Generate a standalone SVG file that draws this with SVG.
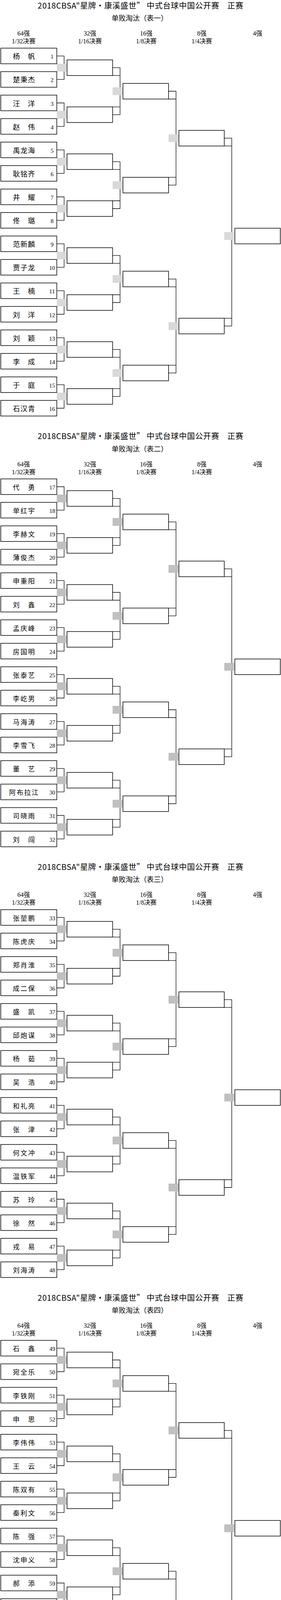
<svg xmlns="http://www.w3.org/2000/svg" width="720" height="4374" viewBox="0 0 720 4374">
<style>
.bg{fill:#fff}
.bx{fill:#fff;stroke:#000;stroke-width:1.5}
.cn path{fill:none;stroke:#000;stroke-width:1.3}
.s1 rect{fill:#d9d9d9}
.s2 rect{fill:#c0c0c0}
.ttl{font-family:"Noto Sans CJK SC",sans-serif;font-size:20px;fill:#000}
.sub{font-family:"Liberation Serif","Noto Sans CJK SC",serif;font-size:18px;text-anchor:middle;fill:#000}
.hd{font-family:"Liberation Serif","Noto Sans CJK SC",serif;font-size:16px;text-anchor:middle;fill:#000}
.nm1{font-family:"Noto Sans CJK SC",sans-serif;font-size:18px;fill:#000}
.nm2{font-family:"Noto Sans CJK SC",sans-serif;font-size:17px;fill:#000}
.no{font-family:"Liberation Serif",serif;font-size:15px;text-anchor:middle;fill:#000}
</style>
<defs>
<g id="hdr">
<text class="hd" x="60.5" y="91">64强</text><text class="hd" x="60.5" y="111">1/32决赛</text>
<text class="hd" x="230.5" y="91">32强</text><text class="hd" x="230.5" y="111">1/16决赛</text>
<text class="hd" x="374.8" y="91">16强</text><text class="hd" x="374.8" y="111">1/8决赛</text>
<text class="hd" x="517" y="91">8强</text><text class="hd" x="517" y="111">1/4决赛</text>
<text class="hd" x="660" y="91">4强</text>
</g>
</defs>
<rect class="bg" x="0" y="0" width="720" height="4374"/>

<!-- ================= TABLE 1 ================= -->
<g id="table1">
<text class="ttl" x="96.6" y="21.5" textLength="526.7">2018CBSA"星牌·康溪盛世” 中式台球中国公开赛　正赛</text>
<text class="sub" x="358" y="53">单败淘汰（表一）</text>
<text class="hd" x="60.5" y="91">64强</text><text class="hd" x="60.5" y="111">1/32决赛</text>
<text class="hd" x="230.5" y="91">32强</text><text class="hd" x="230.5" y="111">1/16决赛</text>
<text class="hd" x="374.8" y="91">16强</text><text class="hd" x="374.8" y="111">1/8决赛</text>
<text class="hd" x="517" y="91">8强</text><text class="hd" x="517" y="111">1/4决赛</text>
<text class="hd" x="660" y="91">4强</text>
<g id="t1-connectors" class="cn">
<path d="M145.5 143.3H164.3V203.4H145.5M145.5 263.5H164.3V323.6H145.5M145.5 383.7H164.3V443.9H145.5M145.5 504H164.3V564.1H145.5M145.5 624.2H164.3V684.3H145.5M145.5 744.4H164.3V804.5H145.5M145.5 864.6H164.3V924.7H145.5M145.5 984.8H164.3V1045H145.5"/>
<path d="M288.5 173.4H307.6V293.6H288.5M288.5 193.4H307.6M288.5 273.6H307.6M288.5 413.8H307.6V534H288.5M288.5 433.8H307.6M288.5 514H307.6M288.5 654.2H307.6V774.5H288.5M288.5 674.2H307.6M288.5 754.5H307.6M288.5 894.7H307.6V1014.9H288.5M288.5 914.7H307.6M288.5 994.9H307.6"/>
<path d="M431.8 233.5H451V473.9H431.8M431.8 253.5H451M431.8 453.9H451M431.8 714.3H451V954.8H431.8M431.8 734.3H451M431.8 934.8H451"/>
<path d="M574.6 353.7H593.8V834.6H574.6M574.6 373.7H593.8M574.6 814.6H593.8"/>
</g>
<g id="t1-seeds" class="s1">
<rect x="145.5" y="163.4" width="25" height="20"/><rect x="145.5" y="283.6" width="25" height="20"/><rect x="145.5" y="403.8" width="25" height="20"/><rect x="145.5" y="524" width="25" height="20"/><rect x="145.5" y="644.2" width="25" height="20"/><rect x="145.5" y="764.5" width="25" height="20"/><rect x="145.5" y="884.7" width="25" height="20"/><rect x="145.5" y="1004.9" width="25" height="20"/>
<rect x="288.5" y="223.5" width="25.2" height="20"/><rect x="288.5" y="463.9" width="25.2" height="20"/><rect x="288.5" y="704.3" width="25.2" height="20"/><rect x="288.5" y="944.8" width="25.2" height="20"/>
<rect x="431.8" y="343.7" width="25.4" height="20"/><rect x="431.8" y="824.6" width="25.4" height="20"/>
<rect x="574.6" y="594.3" width="25.4" height="20"/>
</g>
<g id="t1-p1"><rect class="bx" x="2" y="123.3" width="143.5" height="40"/><text class="nm1" x="33" y="151.3" textLength="56.6">杨　帆</text><text class="no" x="133.5" y="150.3">1</text></g>
<g id="t1-p2"><rect class="bx" x="2" y="183.4" width="143.5" height="40"/><text class="nm1" x="33" y="211.4" textLength="56.6">楚秉杰</text><text class="no" x="133.5" y="210.4">2</text></g>
<g id="t1-p3"><rect class="bx" x="2" y="243.5" width="143.5" height="40"/><text class="nm1" x="33" y="271.5" textLength="56.6">汪　洋</text><text class="no" x="133.5" y="270.5">3</text></g>
<g id="t1-p4"><rect class="bx" x="2" y="303.6" width="143.5" height="40"/><text class="nm1" x="33" y="331.6" textLength="56.6">赵　伟</text><text class="no" x="133.5" y="330.6">4</text></g>
<g id="t1-p5"><rect class="bx" x="2" y="363.7" width="143.5" height="40"/><text class="nm1" x="33" y="391.7" textLength="56.6">禹龙海</text><text class="no" x="133.5" y="390.7">5</text></g>
<g id="t1-p6"><rect class="bx" x="2" y="423.9" width="143.5" height="40"/><text class="nm1" x="33" y="451.9" textLength="56.6">耿铭齐</text><text class="no" x="133.5" y="450.9">6</text></g>
<g id="t1-p7"><rect class="bx" x="2" y="484" width="143.5" height="40"/><text class="nm1" x="33" y="512" textLength="56.6">井　耀</text><text class="no" x="133.5" y="511">7</text></g>
<g id="t1-p8"><rect class="bx" x="2" y="544.1" width="143.5" height="40"/><text class="nm1" x="33" y="572.1" textLength="56.6">佟　璐</text><text class="no" x="133.5" y="571.1">8</text></g>
<g id="t1-p9"><rect class="bx" x="2" y="604.2" width="143.5" height="40"/><text class="nm1" x="33" y="632.2" textLength="56.6">范新麟</text><text class="no" x="133.5" y="631.2">9</text></g>
<g id="t1-p10"><rect class="bx" x="2" y="664.3" width="143.5" height="40"/><text class="nm1" x="33" y="692.3" textLength="56.6">贾子龙</text><text class="no" x="133.5" y="691.3">10</text></g>
<g id="t1-p11"><rect class="bx" x="2" y="724.4" width="143.5" height="40"/><text class="nm1" x="33" y="752.4" textLength="56.6">王　楠</text><text class="no" x="133.5" y="751.4">11</text></g>
<g id="t1-p12"><rect class="bx" x="2" y="784.5" width="143.5" height="40"/><text class="nm1" x="33" y="812.5" textLength="56.6">刘　洋</text><text class="no" x="133.5" y="811.5">12</text></g>
<g id="t1-p13"><rect class="bx" x="2" y="844.6" width="143.5" height="40"/><text class="nm1" x="33" y="872.6" textLength="56.6">刘　颖</text><text class="no" x="133.5" y="871.6">13</text></g>
<g id="t1-p14"><rect class="bx" x="2" y="904.7" width="143.5" height="40"/><text class="nm1" x="33" y="932.7" textLength="56.6">李　成</text><text class="no" x="133.5" y="931.7">14</text></g>
<g id="t1-p15"><rect class="bx" x="2" y="964.8" width="143.5" height="40"/><text class="nm1" x="33" y="992.8" textLength="56.6">于　庭</text><text class="no" x="133.5" y="991.8">15</text></g>
<g id="t1-p16"><rect class="bx" x="2" y="1025" width="143.5" height="40"/><text class="nm1" x="33" y="1053" textLength="56.6">石汉青</text><text class="no" x="133.5" y="1052">16</text></g>
<g id="t1-r32-1"><rect class="bx" x="171.7" y="153.4" width="116.8" height="40"/></g>
<g id="t1-r32-2"><rect class="bx" x="171.7" y="273.6" width="116.8" height="40"/></g>
<g id="t1-r32-3"><rect class="bx" x="171.7" y="393.8" width="116.8" height="40"/></g>
<g id="t1-r32-4"><rect class="bx" x="171.7" y="514" width="116.8" height="40"/></g>
<g id="t1-r32-5"><rect class="bx" x="171.7" y="634.2" width="116.8" height="40"/></g>
<g id="t1-r32-6"><rect class="bx" x="171.7" y="754.5" width="116.8" height="40"/></g>
<g id="t1-r32-7"><rect class="bx" x="171.7" y="874.7" width="116.8" height="40"/></g>
<g id="t1-r32-8"><rect class="bx" x="171.7" y="994.9" width="116.8" height="40"/></g>
<g id="t1-r16-1"><rect class="bx" x="315" y="213.5" width="116.8" height="40"/></g>
<g id="t1-r16-2"><rect class="bx" x="315" y="453.9" width="116.8" height="40"/></g>
<g id="t1-r16-3"><rect class="bx" x="315" y="694.3" width="116.8" height="40"/></g>
<g id="t1-r16-4"><rect class="bx" x="315" y="934.8" width="116.8" height="40"/></g>
<g id="t1-r8-1"><rect class="bx" x="458.4" y="333.7" width="116.2" height="40"/></g>
<g id="t1-r8-2"><rect class="bx" x="458.4" y="814.6" width="116.2" height="40"/></g>
<g id="t1-r4-1"><rect class="bx" x="601.7" y="584.3" width="116.6" height="40"/></g>
</g>

<!-- ================= TABLE 2 ================= -->
<g id="table2" transform="translate(0 1102.7)">
<text class="ttl" x="96.6" y="21.5" textLength="526.7">2018CBSA"星牌·康溪盛世” 中式台球中国公开赛　正赛</text>
<text class="sub" x="358" y="53">单败淘汰（表二）</text>
<text class="hd" x="60.5" y="91">64强</text><text class="hd" x="60.5" y="111">1/32决赛</text>
<text class="hd" x="230.5" y="91">32强</text><text class="hd" x="230.5" y="111">1/16决赛</text>
<text class="hd" x="374.8" y="91">16强</text><text class="hd" x="374.8" y="111">1/8决赛</text>
<text class="hd" x="517" y="91">8强</text><text class="hd" x="517" y="111">1/4决赛</text>
<text class="hd" x="660" y="91">4强</text>
<g id="t2-connectors" class="cn">
<path d="M145.5 143.3H164.3V203.4H145.5M145.5 263.5H164.3V323.6H145.5M145.5 383.7H164.3V443.9H145.5M145.5 504H164.3V564.1H145.5M145.5 624.2H164.3V684.3H145.5M145.5 744.4H164.3V804.5H145.5M145.5 864.6H164.3V924.7H145.5M145.5 984.8H164.3V1045H145.5"/>
<path d="M288.5 173.4H307.6V293.6H288.5M288.5 193.4H307.6M288.5 273.6H307.6M288.5 413.8H307.6V534H288.5M288.5 433.8H307.6M288.5 514H307.6M288.5 654.2H307.6V774.5H288.5M288.5 674.2H307.6M288.5 754.5H307.6M288.5 894.7H307.6V1014.9H288.5M288.5 914.7H307.6M288.5 994.9H307.6"/>
<path d="M431.8 233.5H451V473.9H431.8M431.8 253.5H451M431.8 453.9H451M431.8 714.3H451V954.8H431.8M431.8 734.3H451M431.8 934.8H451"/>
<path d="M574.6 353.7H593.8V834.6H574.6M574.6 373.7H593.8M574.6 814.6H593.8"/>
</g>
<g id="t2-seeds" class="s2">
<rect x="145.5" y="163.4" width="25" height="20"/><rect x="145.5" y="283.6" width="25" height="20"/><rect x="145.5" y="403.8" width="25" height="20"/><rect x="145.5" y="524" width="25" height="20"/><rect x="145.5" y="644.2" width="25" height="20"/><rect x="145.5" y="764.5" width="25" height="20"/><rect x="145.5" y="884.7" width="25" height="20"/><rect x="145.5" y="1004.9" width="25" height="20"/>
<rect x="288.5" y="223.5" width="25.2" height="20"/><rect x="288.5" y="463.9" width="25.2" height="20"/><rect x="288.5" y="704.3" width="25.2" height="20"/><rect x="288.5" y="944.8" width="25.2" height="20"/>
<rect x="431.8" y="343.7" width="25.4" height="20"/><rect x="431.8" y="824.6" width="25.4" height="20"/>
<rect x="574.6" y="594.3" width="25.4" height="20"/>
</g>
<g id="t2-p17"><rect class="bx" x="2" y="123.3" width="143.5" height="40"/><text class="nm2" x="33" y="151.3" textLength="56">代　勇</text><text class="no" x="134" y="150.3">17</text></g>
<g id="t2-p18"><rect class="bx" x="2" y="183.4" width="143.5" height="40"/><text class="nm2" x="33" y="211.4" textLength="56">单红宇</text><text class="no" x="134" y="210.4">18</text></g>
<g id="t2-p19"><rect class="bx" x="2" y="243.5" width="143.5" height="40"/><text class="nm2" x="33" y="271.5" textLength="56">李赫文</text><text class="no" x="134" y="270.5">19</text></g>
<g id="t2-p20"><rect class="bx" x="2" y="303.6" width="143.5" height="40"/><text class="nm2" x="33" y="331.6" textLength="56">薄俊杰</text><text class="no" x="134" y="330.6">20</text></g>
<g id="t2-p21"><rect class="bx" x="2" y="363.7" width="143.5" height="40"/><text class="nm2" x="33" y="391.7" textLength="56">申重阳</text><text class="no" x="134" y="390.7">21</text></g>
<g id="t2-p22"><rect class="bx" x="2" y="423.9" width="143.5" height="40"/><text class="nm2" x="33" y="451.9" textLength="56">刘　鑫</text><text class="no" x="134" y="450.9">22</text></g>
<g id="t2-p23"><rect class="bx" x="2" y="484" width="143.5" height="40"/><text class="nm2" x="33" y="512" textLength="56">孟庆峰</text><text class="no" x="134" y="511">23</text></g>
<g id="t2-p24"><rect class="bx" x="2" y="544.1" width="143.5" height="40"/><text class="nm2" x="33" y="572.1" textLength="56">房国明</text><text class="no" x="134" y="571.1">24</text></g>
<g id="t2-p25"><rect class="bx" x="2" y="604.2" width="143.5" height="40"/><text class="nm2" x="33" y="632.2" textLength="56">张泰艺</text><text class="no" x="134" y="631.2">25</text></g>
<g id="t2-p26"><rect class="bx" x="2" y="664.3" width="143.5" height="40"/><text class="nm2" x="33" y="692.3" textLength="56">李屹男</text><text class="no" x="134" y="691.3">26</text></g>
<g id="t2-p27"><rect class="bx" x="2" y="724.4" width="143.5" height="40"/><text class="nm2" x="33" y="752.4" textLength="56">马海涛</text><text class="no" x="134" y="751.4">27</text></g>
<g id="t2-p28"><rect class="bx" x="2" y="784.5" width="143.5" height="40"/><text class="nm2" x="33" y="812.5" textLength="56">李雪飞</text><text class="no" x="134" y="811.5">28</text></g>
<g id="t2-p29"><rect class="bx" x="2" y="844.6" width="143.5" height="40"/><text class="nm2" x="33" y="872.6" textLength="56">董　艺</text><text class="no" x="134" y="871.6">29</text></g>
<g id="t2-p30"><rect class="bx" x="2" y="904.7" width="143.5" height="40"/><text class="nm2" x="23.3" y="932.7" textLength="75">阿布拉江</text><text class="no" x="134" y="931.7">30</text></g>
<g id="t2-p31"><rect class="bx" x="2" y="964.8" width="143.5" height="40"/><text class="nm2" x="33" y="992.8" textLength="56">司晓雨</text><text class="no" x="134" y="991.8">31</text></g>
<g id="t2-p32"><rect class="bx" x="2" y="1025" width="143.5" height="40"/><text class="nm2" x="33" y="1053" textLength="56">刘　闯</text><text class="no" x="134" y="1052">32</text></g>
<g id="t2-r32-1"><rect class="bx" x="171.7" y="153.4" width="116.8" height="40"/></g>
<g id="t2-r32-2"><rect class="bx" x="171.7" y="273.6" width="116.8" height="40"/></g>
<g id="t2-r32-3"><rect class="bx" x="171.7" y="393.8" width="116.8" height="40"/></g>
<g id="t2-r32-4"><rect class="bx" x="171.7" y="514" width="116.8" height="40"/></g>
<g id="t2-r32-5"><rect class="bx" x="171.7" y="634.2" width="116.8" height="40"/></g>
<g id="t2-r32-6"><rect class="bx" x="171.7" y="754.5" width="116.8" height="40"/></g>
<g id="t2-r32-7"><rect class="bx" x="171.7" y="874.7" width="116.8" height="40"/></g>
<g id="t2-r32-8"><rect class="bx" x="171.7" y="994.9" width="116.8" height="40"/></g>
<g id="t2-r16-1"><rect class="bx" x="315" y="213.5" width="116.8" height="40"/></g>
<g id="t2-r16-2"><rect class="bx" x="315" y="453.9" width="116.8" height="40"/></g>
<g id="t2-r16-3"><rect class="bx" x="315" y="694.3" width="116.8" height="40"/></g>
<g id="t2-r16-4"><rect class="bx" x="315" y="934.8" width="116.8" height="40"/></g>
<g id="t2-r8-1"><rect class="bx" x="458.4" y="333.7" width="116.2" height="40"/></g>
<g id="t2-r8-2"><rect class="bx" x="458.4" y="814.6" width="116.2" height="40"/></g>
<g id="t2-r4-1"><rect class="bx" x="601.7" y="584.3" width="116.6" height="40"/></g>
</g>

<!-- ================= TABLE 3 ================= -->
<g id="table3" transform="translate(0 2205.4)">
<text class="ttl" x="96.6" y="21.5" textLength="526.7">2018CBSA"星牌·康溪盛世” 中式台球中国公开赛　正赛</text>
<text class="sub" x="358" y="53">单败淘汰（表三）</text>
<text class="hd" x="60.5" y="91">64强</text><text class="hd" x="60.5" y="111">1/32决赛</text>
<text class="hd" x="230.5" y="91">32强</text><text class="hd" x="230.5" y="111">1/16决赛</text>
<text class="hd" x="374.8" y="91">16强</text><text class="hd" x="374.8" y="111">1/8决赛</text>
<text class="hd" x="517" y="91">8强</text><text class="hd" x="517" y="111">1/4决赛</text>
<text class="hd" x="660" y="91">4强</text>
<g id="t3-connectors" class="cn">
<path d="M145.5 143.3H164.3V203.4H145.5M145.5 263.5H164.3V323.6H145.5M145.5 383.7H164.3V443.9H145.5M145.5 504H164.3V564.1H145.5M145.5 624.2H164.3V684.3H145.5M145.5 744.4H164.3V804.5H145.5M145.5 864.6H164.3V924.7H145.5M145.5 984.8H164.3V1045H145.5"/>
<path d="M288.5 173.4H307.6V293.6H288.5M288.5 193.4H307.6M288.5 273.6H307.6M288.5 413.8H307.6V534H288.5M288.5 433.8H307.6M288.5 514H307.6M288.5 654.2H307.6V774.5H288.5M288.5 674.2H307.6M288.5 754.5H307.6M288.5 894.7H307.6V1014.9H288.5M288.5 914.7H307.6M288.5 994.9H307.6"/>
<path d="M431.8 233.5H451V473.9H431.8M431.8 253.5H451M431.8 453.9H451M431.8 714.3H451V954.8H431.8M431.8 734.3H451M431.8 934.8H451"/>
<path d="M574.6 353.7H593.8V834.6H574.6M574.6 373.7H593.8M574.6 814.6H593.8"/>
</g>
<g id="t3-seeds" class="s2">
<rect x="145.5" y="163.4" width="25" height="20"/><rect x="145.5" y="283.6" width="25" height="20"/><rect x="145.5" y="403.8" width="25" height="20"/><rect x="145.5" y="524" width="25" height="20"/><rect x="145.5" y="644.2" width="25" height="20"/><rect x="145.5" y="764.5" width="25" height="20"/><rect x="145.5" y="884.7" width="25" height="20"/><rect x="145.5" y="1004.9" width="25" height="20"/>
<rect x="288.5" y="223.5" width="25.2" height="20"/><rect x="288.5" y="463.9" width="25.2" height="20"/><rect x="288.5" y="704.3" width="25.2" height="20"/><rect x="288.5" y="944.8" width="25.2" height="20"/>
<rect x="431.8" y="343.7" width="25.4" height="20"/><rect x="431.8" y="824.6" width="25.4" height="20"/>
<rect x="574.6" y="594.3" width="25.4" height="20"/>
</g>
<g id="t3-p33"><rect class="bx" x="2" y="123.3" width="143.5" height="40"/><text class="nm2" x="33" y="151.3" textLength="56">张堃鹏</text><text class="no" x="134" y="150.3">33</text></g>
<g id="t3-p34"><rect class="bx" x="2" y="183.4" width="143.5" height="40"/><text class="nm2" x="33" y="211.4" textLength="56">陈虎庆</text><text class="no" x="134" y="210.4">34</text></g>
<g id="t3-p35"><rect class="bx" x="2" y="243.5" width="143.5" height="40"/><text class="nm2" x="33" y="271.5" textLength="56">郑肖淮</text><text class="no" x="134" y="270.5">35</text></g>
<g id="t3-p36"><rect class="bx" x="2" y="303.6" width="143.5" height="40"/><text class="nm2" x="33" y="331.6" textLength="56">成二保</text><text class="no" x="134" y="330.6">36</text></g>
<g id="t3-p37"><rect class="bx" x="2" y="363.7" width="143.5" height="40"/><text class="nm2" x="33" y="391.7" textLength="56">盛　凯</text><text class="no" x="134" y="390.7">37</text></g>
<g id="t3-p38"><rect class="bx" x="2" y="423.9" width="143.5" height="40"/><text class="nm2" x="33" y="451.9" textLength="56">邱炮谋</text><text class="no" x="134" y="450.9">38</text></g>
<g id="t3-p39"><rect class="bx" x="2" y="484" width="143.5" height="40"/><text class="nm2" x="33" y="512" textLength="56">杨　茹</text><text class="no" x="134" y="511">39</text></g>
<g id="t3-p40"><rect class="bx" x="2" y="544.1" width="143.5" height="40"/><text class="nm2" x="33" y="572.1" textLength="56">吴　浩</text><text class="no" x="134" y="571.1">40</text></g>
<g id="t3-p41"><rect class="bx" x="2" y="604.2" width="143.5" height="40"/><text class="nm2" x="33" y="632.2" textLength="56">和礼亮</text><text class="no" x="134" y="631.2">41</text></g>
<g id="t3-p42"><rect class="bx" x="2" y="664.3" width="143.5" height="40"/><text class="nm2" x="33" y="692.3" textLength="56">张　津</text><text class="no" x="134" y="691.3">42</text></g>
<g id="t3-p43"><rect class="bx" x="2" y="724.4" width="143.5" height="40"/><text class="nm2" x="33" y="752.4" textLength="56">何文冲</text><text class="no" x="134" y="751.4">43</text></g>
<g id="t3-p44"><rect class="bx" x="2" y="784.5" width="143.5" height="40"/><text class="nm2" x="33" y="812.5" textLength="56">温铁军</text><text class="no" x="134" y="811.5">44</text></g>
<g id="t3-p45"><rect class="bx" x="2" y="844.6" width="143.5" height="40"/><text class="nm2" x="33" y="872.6" textLength="56">苏　玲</text><text class="no" x="134" y="871.6">45</text></g>
<g id="t3-p46"><rect class="bx" x="2" y="904.7" width="143.5" height="40"/><text class="nm2" x="33" y="932.7" textLength="56">徐　然</text><text class="no" x="134" y="931.7">46</text></g>
<g id="t3-p47"><rect class="bx" x="2" y="964.8" width="143.5" height="40"/><text class="nm2" x="33" y="992.8" textLength="56">戎　易</text><text class="no" x="134" y="991.8">47</text></g>
<g id="t3-p48"><rect class="bx" x="2" y="1025" width="143.5" height="40"/><text class="nm2" x="33" y="1053" textLength="56">刘海涛</text><text class="no" x="134" y="1052">48</text></g>
<g id="t3-r32-1"><rect class="bx" x="171.7" y="153.4" width="116.8" height="40"/></g>
<g id="t3-r32-2"><rect class="bx" x="171.7" y="273.6" width="116.8" height="40"/></g>
<g id="t3-r32-3"><rect class="bx" x="171.7" y="393.8" width="116.8" height="40"/></g>
<g id="t3-r32-4"><rect class="bx" x="171.7" y="514" width="116.8" height="40"/></g>
<g id="t3-r32-5"><rect class="bx" x="171.7" y="634.2" width="116.8" height="40"/></g>
<g id="t3-r32-6"><rect class="bx" x="171.7" y="754.5" width="116.8" height="40"/></g>
<g id="t3-r32-7"><rect class="bx" x="171.7" y="874.7" width="116.8" height="40"/></g>
<g id="t3-r32-8"><rect class="bx" x="171.7" y="994.9" width="116.8" height="40"/></g>
<g id="t3-r16-1"><rect class="bx" x="315" y="213.5" width="116.8" height="40"/></g>
<g id="t3-r16-2"><rect class="bx" x="315" y="453.9" width="116.8" height="40"/></g>
<g id="t3-r16-3"><rect class="bx" x="315" y="694.3" width="116.8" height="40"/></g>
<g id="t3-r16-4"><rect class="bx" x="315" y="934.8" width="116.8" height="40"/></g>
<g id="t3-r8-1"><rect class="bx" x="458.4" y="333.7" width="116.2" height="40"/></g>
<g id="t3-r8-2"><rect class="bx" x="458.4" y="814.6" width="116.2" height="40"/></g>
<g id="t3-r4-1"><rect class="bx" x="601.7" y="584.3" width="116.6" height="40"/></g>
</g>

<!-- ================= TABLE 4 ================= -->
<g id="table4" transform="translate(0 3308.1)">
<text class="ttl" x="96.6" y="21.5" textLength="526.7">2018CBSA"星牌·康溪盛世” 中式台球中国公开赛　正赛</text>
<text class="sub" x="358" y="53">单败淘汰（表四）</text>
<text class="hd" x="60.5" y="91">64强</text><text class="hd" x="60.5" y="111">1/32决赛</text>
<text class="hd" x="230.5" y="91">32强</text><text class="hd" x="230.5" y="111">1/16决赛</text>
<text class="hd" x="374.8" y="91">16强</text><text class="hd" x="374.8" y="111">1/8决赛</text>
<text class="hd" x="517" y="91">8强</text><text class="hd" x="517" y="111">1/4决赛</text>
<text class="hd" x="660" y="91">4强</text>
<g id="t4-connectors" class="cn">
<path d="M145.5 143.3H164.3V203.4H145.5M145.5 263.5H164.3V323.6H145.5M145.5 383.7H164.3V443.9H145.5M145.5 504H164.3V564.1H145.5M145.5 624.2H164.3V684.3H145.5M145.5 744.4H164.3V804.5H145.5M145.5 864.6H164.3V924.7H145.5M145.5 984.8H164.3V1045H145.5"/>
<path d="M288.5 173.4H307.6V293.6H288.5M288.5 193.4H307.6M288.5 273.6H307.6M288.5 413.8H307.6V534H288.5M288.5 433.8H307.6M288.5 514H307.6M288.5 654.2H307.6V774.5H288.5M288.5 674.2H307.6M288.5 754.5H307.6M288.5 894.7H307.6V1014.9H288.5M288.5 914.7H307.6M288.5 994.9H307.6"/>
<path d="M431.8 233.5H451V473.9H431.8M431.8 253.5H451M431.8 453.9H451M431.8 714.3H451V954.8H431.8M431.8 734.3H451M431.8 934.8H451"/>
<path d="M574.6 353.7H593.8V834.6H574.6M574.6 373.7H593.8M574.6 814.6H593.8"/>
</g>
<g id="t4-seeds" class="s2">
<rect x="145.5" y="163.4" width="25" height="20"/><rect x="145.5" y="283.6" width="25" height="20"/><rect x="145.5" y="403.8" width="25" height="20"/><rect x="145.5" y="524" width="25" height="20"/><rect x="145.5" y="644.2" width="25" height="20"/><rect x="145.5" y="764.5" width="25" height="20"/><rect x="145.5" y="884.7" width="25" height="20"/><rect x="145.5" y="1004.9" width="25" height="20"/>
<rect x="288.5" y="223.5" width="25.2" height="20"/><rect x="288.5" y="463.9" width="25.2" height="20"/><rect x="288.5" y="704.3" width="25.2" height="20"/><rect x="288.5" y="944.8" width="25.2" height="20"/>
<rect x="431.8" y="343.7" width="25.4" height="20"/><rect x="431.8" y="824.6" width="25.4" height="20"/>
<rect x="574.6" y="594.3" width="25.4" height="20"/>
</g>
<g id="t4-p49"><rect class="bx" x="2" y="123.3" width="143.5" height="40"/><text class="nm2" x="33" y="151.3" textLength="56">石　鑫</text><text class="no" x="134" y="150.3">49</text></g>
<g id="t4-p50"><rect class="bx" x="2" y="183.4" width="143.5" height="40"/><text class="nm2" x="33" y="211.4" textLength="56">宛全乐</text><text class="no" x="134" y="210.4">50</text></g>
<g id="t4-p51"><rect class="bx" x="2" y="243.5" width="143.5" height="40"/><text class="nm2" x="33" y="271.5" textLength="56">李铁刚</text><text class="no" x="134" y="270.5">51</text></g>
<g id="t4-p52"><rect class="bx" x="2" y="303.6" width="143.5" height="40"/><text class="nm2" x="33" y="331.6" textLength="56">申　思</text><text class="no" x="134" y="330.6">52</text></g>
<g id="t4-p53"><rect class="bx" x="2" y="363.7" width="143.5" height="40"/><text class="nm2" x="33" y="391.7" textLength="56">李伟伟</text><text class="no" x="134" y="390.7">53</text></g>
<g id="t4-p54"><rect class="bx" x="2" y="423.9" width="143.5" height="40"/><text class="nm2" x="33" y="451.9" textLength="56">王　云</text><text class="no" x="134" y="450.9">54</text></g>
<g id="t4-p55"><rect class="bx" x="2" y="484" width="143.5" height="40"/><text class="nm2" x="33" y="512" textLength="56">陈双有</text><text class="no" x="134" y="511">55</text></g>
<g id="t4-p56"><rect class="bx" x="2" y="544.1" width="143.5" height="40"/><text class="nm2" x="33" y="572.1" textLength="56">秦利文</text><text class="no" x="134" y="571.1">56</text></g>
<g id="t4-p57"><rect class="bx" x="2" y="604.2" width="143.5" height="40"/><text class="nm2" x="33" y="632.2" textLength="56">陈　强</text><text class="no" x="134" y="631.2">57</text></g>
<g id="t4-p58"><rect class="bx" x="2" y="664.3" width="143.5" height="40"/><text class="nm2" x="33" y="692.3" textLength="56">沈申义</text><text class="no" x="134" y="691.3">58</text></g>
<g id="t4-p59"><rect class="bx" x="2" y="724.4" width="143.5" height="40"/><text class="nm2" x="33" y="752.4" textLength="56">郝　添</text><text class="no" x="134" y="751.4">59</text></g>
<g id="t4-p60"><rect class="bx" x="2" y="784.5" width="143.5" height="40"/><text class="nm2" x="33" y="812.5" textLength="56">董文杰</text><text class="no" x="134" y="811.5">60</text></g>
<g id="t4-p61"><rect class="bx" x="2" y="844.6" width="143.5" height="40"/><text class="nm2" x="33" y="872.6" textLength="56">王学峰</text><text class="no" x="134" y="871.6">61</text></g>
<g id="t4-p62"><rect class="bx" x="2" y="904.7" width="143.5" height="40"/><text class="nm2" x="33" y="932.7" textLength="56">崔明君</text><text class="no" x="134" y="931.7">62</text></g>
<g id="t4-p63"><rect class="bx" x="2" y="964.8" width="143.5" height="40"/><text class="nm2" x="33" y="992.8" textLength="56">赵汝亮</text><text class="no" x="134" y="991.8">63</text></g>
<g id="t4-p64"><rect class="bx" x="2" y="1025" width="143.5" height="40"/><text class="nm2" x="33" y="1053" textLength="56">吴振宇</text><text class="no" x="134" y="1052">64</text></g>
<g id="t4-r32-1"><rect class="bx" x="171.7" y="153.4" width="116.8" height="40"/></g>
<g id="t4-r32-2"><rect class="bx" x="171.7" y="273.6" width="116.8" height="40"/></g>
<g id="t4-r32-3"><rect class="bx" x="171.7" y="393.8" width="116.8" height="40"/></g>
<g id="t4-r32-4"><rect class="bx" x="171.7" y="514" width="116.8" height="40"/></g>
<g id="t4-r32-5"><rect class="bx" x="171.7" y="634.2" width="116.8" height="40"/></g>
<g id="t4-r32-6"><rect class="bx" x="171.7" y="754.5" width="116.8" height="40"/></g>
<g id="t4-r32-7"><rect class="bx" x="171.7" y="874.7" width="116.8" height="40"/></g>
<g id="t4-r32-8"><rect class="bx" x="171.7" y="994.9" width="116.8" height="40"/></g>
<g id="t4-r16-1"><rect class="bx" x="315" y="213.5" width="116.8" height="40"/></g>
<g id="t4-r16-2"><rect class="bx" x="315" y="453.9" width="116.8" height="40"/></g>
<g id="t4-r16-3"><rect class="bx" x="315" y="694.3" width="116.8" height="40"/></g>
<g id="t4-r16-4"><rect class="bx" x="315" y="934.8" width="116.8" height="40"/></g>
<g id="t4-r8-1"><rect class="bx" x="458.4" y="333.7" width="116.2" height="40"/></g>
<g id="t4-r8-2"><rect class="bx" x="458.4" y="814.6" width="116.2" height="40"/></g>
<g id="t4-r4-1"><rect class="bx" x="601.7" y="584.3" width="116.6" height="40"/></g>
</g>
</svg>
